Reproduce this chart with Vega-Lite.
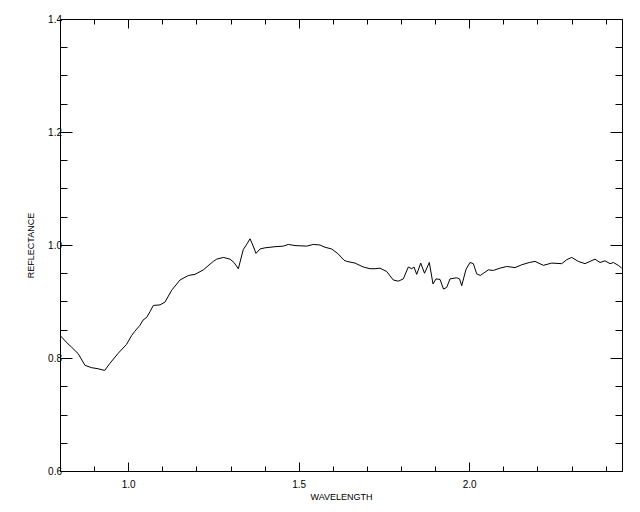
{
  "$schema": "https://vega.github.io/schema/vega-lite/v6.json",
  "width": 562,
  "height": 452,
  "autosize": {"type": "none"},
  "padding": {"left": 60, "top": 19, "right": 18, "bottom": 41},
  "background": "white",
  "config": {
    "view": {"stroke": "black", "strokeWidth": 1},
    "axis": {
      "domainColor": "black",
      "tickColor": "black",
      "labelColor": "black",
      "titleColor": "black",
      "labelFont": "Liberation Sans",
      "titleFont": "Liberation Sans",
      "labelFontSize": 10,
      "titleFontSize": 9,
      "titleFontWeight": "normal",
      "grid": false
    }
  },
  "data": {
    "values": [
      {"w": 0.800, "r": 0.840}, {"w": 0.8235, "r": 0.825}, {"w": 0.8343, "r": 0.819},
      {"w": 0.8528, "r": 0.808}, {"w": 0.8733, "r": 0.787}, {"w": 0.8918, "r": 0.783},
      {"w": 0.9114, "r": 0.781}, {"w": 0.9311, "r": 0.778}, {"w": 0.9457, "r": 0.790},
      {"w": 0.9701, "r": 0.808}, {"w": 0.9950, "r": 0.824}, {"w": 1.0103, "r": 0.840},
      {"w": 1.0191, "r": 0.847}, {"w": 1.0346, "r": 0.858}, {"w": 1.0434, "r": 0.867},
      {"w": 1.0543, "r": 0.872}, {"w": 1.0639, "r": 0.882}, {"w": 1.0736, "r": 0.893},
      {"w": 1.0933, "r": 0.894}, {"w": 1.1079, "r": 0.899}, {"w": 1.1276, "r": 0.920},
      {"w": 1.1519, "r": 0.938}, {"w": 1.1762, "r": 0.946}, {"w": 1.1959, "r": 0.948},
      {"w": 1.2202, "r": 0.956}, {"w": 1.2496, "r": 0.971}, {"w": 1.2595, "r": 0.975},
      {"w": 1.2789, "r": 0.978}, {"w": 1.2985, "r": 0.975}, {"w": 1.3103, "r": 0.969},
      {"w": 1.3229, "r": 0.958}, {"w": 1.3375, "r": 0.992}, {"w": 1.3484, "r": 1.002},
      {"w": 1.3572, "r": 1.011}, {"w": 1.3639, "r": 1.002}, {"w": 1.3748, "r": 0.985},
      {"w": 1.3865, "r": 0.993}, {"w": 1.4012, "r": 0.995}, {"w": 1.4305, "r": 0.997},
      {"w": 1.4548, "r": 0.998}, {"w": 1.4695, "r": 1.001}, {"w": 1.4891, "r": 0.999},
      {"w": 1.5235, "r": 0.998}, {"w": 1.5428, "r": 1.001}, {"w": 1.5625, "r": 1.000},
      {"w": 1.5771, "r": 0.996}, {"w": 1.5968, "r": 0.993}, {"w": 1.6161, "r": 0.984},
      {"w": 1.6328, "r": 0.973}, {"w": 1.6408, "r": 0.971}, {"w": 1.6651, "r": 0.968},
      {"w": 1.6894, "r": 0.961}, {"w": 1.7091, "r": 0.958}, {"w": 1.7238, "r": 0.958},
      {"w": 1.7384, "r": 0.959}, {"w": 1.7581, "r": 0.953}, {"w": 1.7774, "r": 0.938},
      {"w": 1.7921, "r": 0.936}, {"w": 1.8067, "r": 0.940}, {"w": 1.8214, "r": 0.961},
      {"w": 1.8314, "r": 0.958}, {"w": 1.8381, "r": 0.961}, {"w": 1.8460, "r": 0.948},
      {"w": 1.8578, "r": 0.968}, {"w": 1.8689, "r": 0.950}, {"w": 1.8830, "r": 0.969},
      {"w": 1.8938, "r": 0.931}, {"w": 1.9026, "r": 0.940}, {"w": 1.9144, "r": 0.939},
      {"w": 1.9246, "r": 0.922}, {"w": 1.9340, "r": 0.925}, {"w": 1.9437, "r": 0.940},
      {"w": 1.9633, "r": 0.942}, {"w": 1.9716, "r": 0.940}, {"w": 1.9780, "r": 0.928},
      {"w": 1.9906, "r": 0.957}, {"w": 2.0023, "r": 0.969}, {"w": 2.0120, "r": 0.967},
      {"w": 2.0220, "r": 0.949}, {"w": 2.0325, "r": 0.946}, {"w": 2.0560, "r": 0.956},
      {"w": 2.0707, "r": 0.955}, {"w": 2.0903, "r": 0.959}, {"w": 2.1100, "r": 0.962},
      {"w": 2.1343, "r": 0.960}, {"w": 2.1540, "r": 0.965}, {"w": 2.1762, "r": 0.969},
      {"w": 2.1930, "r": 0.971}, {"w": 2.2173, "r": 0.964}, {"w": 2.2419, "r": 0.968},
      {"w": 2.2713, "r": 0.967}, {"w": 2.2859, "r": 0.974}, {"w": 2.3006, "r": 0.978},
      {"w": 2.3199, "r": 0.971}, {"w": 2.3396, "r": 0.967}, {"w": 2.3689, "r": 0.975},
      {"w": 2.3836, "r": 0.969}, {"w": 2.3982, "r": 0.972}, {"w": 2.4129, "r": 0.967},
      {"w": 2.4226, "r": 0.969}, {"w": 2.4372, "r": 0.964}, {"w": 2.4472, "r": 0.959}
    ]
  },
  "layer": [
    {
      "mark": {"type": "line", "color": "black", "strokeWidth": 1, "clip": true},
      "encoding": {
        "x": {
          "field": "w", "type": "quantitative",
          "scale": {"domain": [0.8, 2.448], "nice": false, "zero": false},
          "axis": {
            "orient": "bottom",
            "title": "WAVELENGTH",
            "values": [0.9, 1.0, 1.1, 1.2, 1.3, 1.4, 1.5, 1.6, 1.7, 1.8, 1.9, 2.0, 2.1, 2.2, 2.3, 2.4],
            "labelExpr": "abs(datum.value*2 - round(datum.value*2)) < 0.001 ? format(datum.value, '.1f') : ''",
            "tickSize": {"condition": {"test": "abs(datum.value*2 - round(datum.value*2)) < 0.001", "value": -9}, "value": -5},
            "labelPadding": 17,
            "labelFlush": false,
            "titlePadding": 3
          }
        },
        "y": {
          "field": "r", "type": "quantitative",
          "scale": {"domain": [0.6, 1.4], "nice": false, "zero": false},
          "axis": {
            "orient": "left",
            "title": "REFLECTANCE",
            "values": [0.6, 0.65, 0.7, 0.75, 0.8, 0.85, 0.9, 0.95, 1.0, 1.05, 1.1, 1.15, 1.2, 1.25, 1.3, 1.35, 1.4],
            "labelExpr": "abs(datum.value*5 - round(datum.value*5)) < 0.001 ? format(datum.value, '.1f') : ''",
            "tickSize": {"condition": {"test": "abs(datum.value*5 - round(datum.value*5)) < 0.001", "value": -12}, "value": -7},
            "labelPadding": 10.5,
            "titlePadding": 12.5
          }
        }
      }
    },
    {
      "mark": {"type": "line", "color": "black", "strokeWidth": 1, "opacity": 0},
      "encoding": {
        "x": {
          "field": "w", "type": "quantitative",
          "axis": {
            "orient": "top",
            "title": null,
            "labels": false,
            "values": [0.9, 1.0, 1.1, 1.2, 1.3, 1.4, 1.5, 1.6, 1.7, 1.8, 1.9, 2.0, 2.1, 2.2, 2.3, 2.4],
            "tickSize": {"condition": {"test": "abs(datum.value*2 - round(datum.value*2)) < 0.001", "value": -9}, "value": -5}
          }
        },
        "y": {
          "field": "r", "type": "quantitative",
          "axis": {
            "orient": "right",
            "title": null,
            "labels": false,
            "values": [0.65, 0.7, 0.75, 0.8, 0.85, 0.9, 0.95, 1.0, 1.05, 1.1, 1.15, 1.2, 1.25, 1.3, 1.35],
            "tickSize": {"condition": {"test": "abs(datum.value*5 - round(datum.value*5)) < 0.001", "value": -12}, "value": -7}
          }
        }
      }
    }
  ],
  "resolve": {"axis": {"x": "independent", "y": "independent"}}
}
